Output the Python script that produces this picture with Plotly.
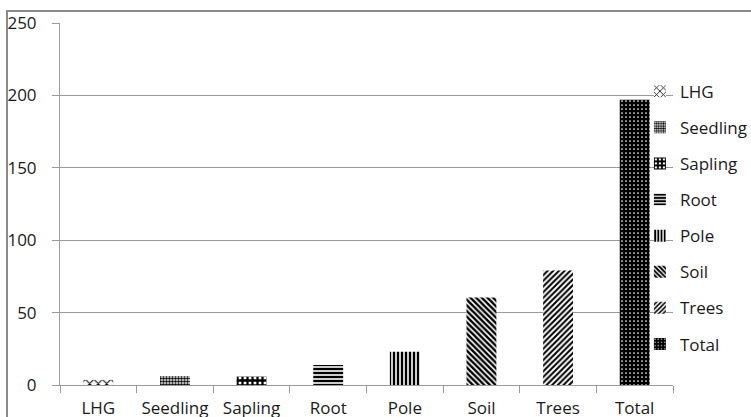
import plotly.graph_objects as go

categories = ["LHG", "Seedling", "Sapling", "Root", "Pole", "Soil", "Trees", "Total"]
values = [3.5, 6.2, 5.8, 13.8, 23.0, 60.5, 79.0, 197.0]
y_ticks = [0, 50, 100, 150, 200, 250]

patterns = {
    "LHG": dict(shape="x", fgcolor="black", bgcolor="white", size=6, solidity=0.3),
    "Seedling": dict(shape=".", fgcolor="black", bgcolor="white", size=3, solidity=0.6),
    "Sapling": dict(shape="+", fgcolor="black", bgcolor="white", size=5, solidity=0.7),
    "Root": dict(shape="-", fgcolor="black", bgcolor="white", size=4, solidity=0.6),
    "Pole": dict(shape="|", fgcolor="black", bgcolor="white", size=4, solidity=0.6),
    "Soil": dict(shape="\\", fgcolor="black", bgcolor="white", size=4, solidity=0.6),
    "Trees": dict(shape="/", fgcolor="black", bgcolor="white", size=4, solidity=0.5),
    "Total": dict(shape=".", fgcolor="white", bgcolor="black", size=4, solidity=0.15),
}

fig = go.Figure()
for cat, val in zip(categories, values):
    pat = dict(patterns[cat], fgopacity=1, fillmode="replace")
    fig.add_trace(go.Bar(
        x=[cat], y=[val], name=cat, legendgroup=cat,
        width=0.39,
        marker=dict(color="black", pattern=pat, line=dict(width=0)),
    ))

font = "Open Sans"
fig.update_layout(
    width=751, height=417,
    margin=dict(l=60, r=78, t=23, b=32, autoexpand=False),
    paper_bgcolor="white", plot_bgcolor="white",
    barmode="overlay",
    font=dict(family=font, size=17, color="#1a1a1a"),
    showlegend=True,
    legend=dict(x=0.946, y=0.86, xanchor="left", yanchor="top",
                bgcolor="rgba(0,0,0,0)", tracegroupgap=11,
                font=dict(size=17), itemwidth=30),
    xaxis=dict(
        categoryorder="array", categoryarray=categories,
        showline=True, linecolor="#9a9a9a", linewidth=1,
        ticks="outside", ticklen=7, tickcolor="#9a9a9a", tickson="boundaries",
        showgrid=False, tickfont=dict(size=17), tickangle=0, automargin=False,
        ticklabelstandoff=8,
    ),
    yaxis=dict(
        range=[0, 250], tickvals=y_ticks,
        showline=True, linecolor="#9a9a9a", linewidth=1,
        ticks="outside", ticklen=7, tickcolor="#9a9a9a",
        showgrid=True, gridcolor="#9a9a9a", gridwidth=1,
        zeroline=False, tickfont=dict(size=17), automargin=False,
        ticklabelstandoff=12,
    ),
)

# outer chart border (extends beyond bottom/right of the crop)
fig.add_shape(type="rect", xref="paper", yref="paper",
              x0=(7 - 60) / 613, x1=(760 - 60) / 613,
              y0=(385 - 430) / 362, y1=(385 - 11) / 362,
              line=dict(color="#8a8a8a", width=2), fillcolor="rgba(0,0,0,0)", layer="below")

fig.write_html("out.html")
